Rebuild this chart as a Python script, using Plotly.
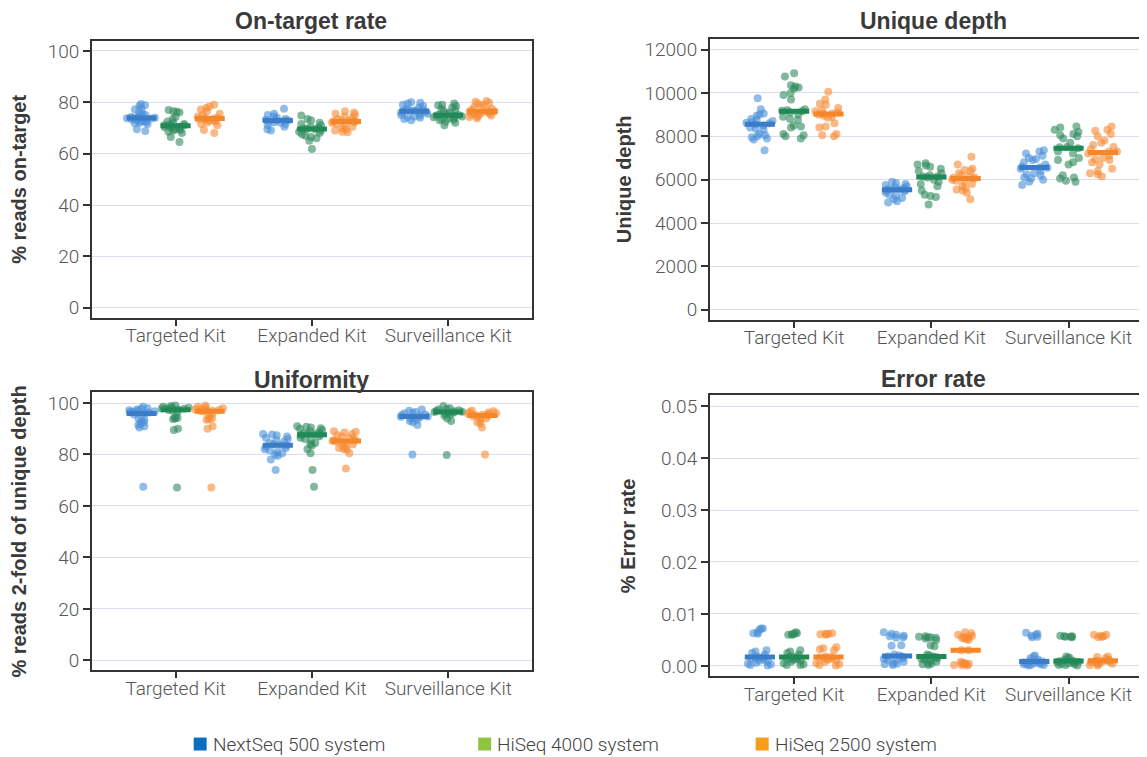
import numpy as np
import plotly.graph_objects as go

# The page adds an 8px body margin; figure is sized so it fills the window.
OFF = 8
W, H = 1147 - OFF, 757 - OFF

kits = ["Targeted Kit", "Expanded Kit", "Surveillance Kit"]
systems = ["NextSeq 500 system", "HiSeq 4000 system", "HiSeq 2500 system"]

# ---- On-target rate (% reads on-target); one list per kit ----
ontarget_nextseq = [
    [79.3, 78.8, 78.5, 77.5, 77.2, 76.0, 75.5, 75.0, 74.8, 74.5, 74.3, 74.0, 74.0, 73.9, 73.8,
     73.7, 73.6, 73.5, 73.3, 73.0, 72.8, 72.5, 72.2, 72.0, 71.8, 71.5, 69.5, 68.8],
    [77.5, 75.5, 75.0, 74.5, 74.0, 73.5, 73.2, 73.0, 72.9, 72.8, 72.5, 72.2, 72.0, 71.5, 71.0,
     70.5, 69.5, 69.0],
    [80.0, 79.8, 79.5, 79.0, 78.5, 78.0, 77.5, 77.2, 77.0, 76.8, 76.7, 76.5, 76.3, 76.0, 75.8,
     75.5, 75.0, 74.8, 74.5, 74.3, 74.0, 73.5, 73.0],
]
ontarget_hiseq4000 = [
    [77.0, 76.5, 76.3, 76.0, 74.3, 73.5, 72.5, 72.0, 71.5, 71.2, 71.0, 71.0, 70.8, 70.5, 70.3,
     70.0, 69.8, 69.5, 69.2, 69.0, 68.5, 68.0, 66.5, 64.5],
    [74.8, 73.5, 73.0, 72.0, 71.5, 71.0, 70.5, 70.0, 69.8, 69.7, 69.5, 69.0, 68.5, 68.0, 67.5,
     67.0, 66.5, 66.0, 65.0, 61.8],
    [79.5, 79.0, 78.8, 78.5, 78.0, 77.5, 77.0, 76.5, 76.0, 75.5, 75.2, 75.0, 74.8, 74.7, 74.5,
     74.2, 74.0, 73.7, 73.5, 73.2, 73.0, 72.5, 72.0, 71.0],
]
ontarget_hiseq2500 = [
    [79.0, 78.3, 77.8, 77.2, 76.5, 75.5, 75.0, 74.5, 74.0, 73.8, 73.7, 73.5, 73.3, 73.0, 72.8,
     72.5, 72.0, 71.5, 71.0, 69.2, 68.0],
    [76.5, 76.0, 75.5, 75.0, 74.5, 74.0, 73.5, 73.0, 72.8, 72.6, 72.5, 72.3, 72.0, 71.5, 71.0,
     70.5, 70.0, 69.5, 69.0, 68.5, 68.3],
    [80.5, 80.2, 79.8, 79.5, 79.0, 78.5, 78.0, 77.5, 77.0, 76.8, 76.5, 76.4, 76.3, 76.0, 75.8,
     75.5, 75.2, 75.0, 74.8, 74.5, 74.3, 73.8],
]

# ---- Unique depth ----
depth_nextseq = [
    [9750, 9250, 9050, 9000, 8950, 8800, 8750, 8700, 8650, 8620, 8600, 8550, 8500, 8400, 8350,
     8300, 8100, 8050, 8000, 7950, 7900, 7850, 7350],
    [5900, 5850, 5800, 5750, 5700, 5650, 5600, 5580, 5550, 5540, 5520, 5500, 5450, 5400, 5300,
     5250, 5150, 5100, 5000, 4950],
    [7350, 7300, 7200, 7100, 7000, 6950, 6900, 6800, 6700, 6600, 6570, 6550, 6500, 6400, 6300,
     6250, 6200, 6100, 6050, 6000, 5900, 5750],
]
depth_hiseq4000 = [
    [10900, 10750, 10350, 10300, 10250, 10200, 10000, 9900, 9700, 9250, 9200, 9180, 9150, 9100,
     9000, 8900, 8800, 8750, 8500, 8450, 8400, 8100, 8050, 8000, 7900],
    [6750, 6700, 6650, 6600, 6500, 6400, 6300, 6200, 6150, 6140, 6100, 6000, 5900, 5800, 5700,
     5500, 5300, 5250, 5200, 4850],
    [8450, 8400, 8300, 8200, 8100, 8050, 8000, 7900, 7700, 7500, 7490, 7450, 7300, 7200, 7000,
     6900, 6800, 6700, 6200, 6100, 6050, 5950, 5900],
]
depth_hiseq2500 = [
    [10050, 9700, 9500, 9450, 9300, 9200, 9150, 9100, 9050, 9050, 9000, 8950, 8900, 8850, 8600,
     8450, 8400, 8100, 8050, 8000],
    [7050, 6700, 6500, 6450, 6400, 6300, 6200, 6150, 6100, 6090, 6050, 6000, 5950, 5900, 5800,
     5700, 5600, 5550, 5500, 5400, 5100],
    [8450, 8300, 8250, 8100, 8000, 7800, 7700, 7600, 7500, 7400, 7300, 7300, 7200, 7100, 7000,
     6950, 6900, 6800, 6700, 6500, 6400, 6300, 6250, 6150],
]

# ---- Uniformity (% reads 2-fold of unique depth) ----
uniform_nextseq = [
    [98.5, 98.0, 97.8, 97.5, 97.2, 97.0, 96.8, 96.6, 96.5, 96.3, 96.0, 95.8, 95.5, 94.0, 93.5,
     93.0, 92.5, 92.0, 91.5, 91.0, 90.5, 67.5],
    [88.0, 87.8, 87.5, 87.0, 86.5, 86.0, 85.5, 85.0, 84.5, 84.0, 83.7, 83.5, 83.0, 82.5, 82.0,
     81.5, 81.0, 80.5, 80.0, 79.5, 78.0, 74.0],
    [97.5, 97.0, 96.5, 96.2, 96.0, 95.5, 95.2, 95.0, 94.8, 94.7, 94.5, 94.2, 94.0, 93.5, 93.0,
     92.5, 91.5, 80.0],
]
uniform_hiseq4000 = [
    [99.0, 98.8, 98.5, 98.3, 98.2, 98.0, 97.9, 97.8, 97.7, 97.5, 97.3, 97.0, 96.5, 94.5, 94.0,
     94.2, 93.8, 90.0, 89.5, 67.2],
    [91.0, 90.8, 90.5, 90.2, 90.0, 89.5, 89.0, 88.5, 88.2, 88.0, 87.9, 87.8, 87.5, 87.0, 86.5,
     86.0, 85.5, 84.5, 84.0, 83.5, 82.0, 80.5, 74.0, 67.5],
    [98.8, 98.0, 97.8, 97.5, 97.2, 97.0, 96.8, 96.6, 96.5, 96.3, 96.0, 95.8, 95.5, 95.0, 94.0,
     93.0, 79.8],
]
uniform_hiseq2500 = [
    [99.0, 98.5, 98.2, 98.0, 97.8, 97.5, 97.3, 97.2, 97.0, 96.8, 96.5, 96.0, 94.5, 94.0, 93.5,
     93.8, 91.0, 90.0, 67.2],
    [89.0, 88.8, 88.5, 88.0, 87.5, 87.0, 86.5, 86.0, 85.5, 85.4, 85.2, 85.0, 84.5, 84.0, 83.5,
     83.0, 82.5, 82.0, 81.8, 80.5, 74.5],
    [97.0, 96.8, 96.5, 96.3, 96.0, 95.8, 95.5, 95.4, 95.3, 95.0, 94.8, 94.5, 94.0, 93.5, 92.5,
     92.0, 90.5, 80.0],
]

# ---- Error rate (%) ----
error_nextseq = [
    [0.0072, 0.0072, 0.0070, 0.0065, 0.0063, 0.0062, 0.0030, 0.0028, 0.0025, 0.0022, 0.0014,
     0.0018, 0.0016, 0.0015, 0.0012, 0.0010, 0.0008, 0.0006, 0.0004, 0.0003, 0.0002, 0.0001],
    [0.0065, 0.0062, 0.0060, 0.0058, 0.0057, 0.0055, 0.0054, 0.0040, 0.0039, 0.0012, 0.0014,
     0.0022, 0.0020, 0.0018, 0.0018, 0.0015, 0.0010, 0.0008, 0.0005, 0.0004, 0.0003, 0.0002],
    [0.0064, 0.0062, 0.0060, 0.0058, 0.0056, 0.0055, 0.0020, 0.0018, 0.0015, 0.0012, 0.0009,
     0.0008, 0.0008, 0.0007, 0.0006, 0.0005, 0.0004, 0.0003, 0.0003, 0.0002, 0.0002, 0.0001],
]
error_hiseq4000 = [
    [0.0065, 0.0063, 0.0062, 0.0061, 0.0060, 0.0060, 0.0030, 0.0028, 0.0025, 0.0022, 0.0013,
     0.0018, 0.0016, 0.0015, 0.0014, 0.0012, 0.0010, 0.0008, 0.0005, 0.0003, 0.0002, 0.0002],
    [0.0057, 0.0056, 0.0055, 0.0055, 0.0054, 0.0053, 0.0050, 0.0040, 0.0038, 0.0012, 0.0014,
     0.0018, 0.0022, 0.0020, 0.0017, 0.0016, 0.0015, 0.0010, 0.0008, 0.0005, 0.0004, 0.0003,
     0.0002],
    [0.0058, 0.0057, 0.0057, 0.0056, 0.0056, 0.0055, 0.0018, 0.0016, 0.0015, 0.0012, 0.0010,
     0.0009, 0.0008, 0.0008, 0.0007, 0.0006, 0.0005, 0.0004, 0.0003, 0.0002, 0.0002, 0.0001],
]
error_hiseq2500 = [
    [0.0063, 0.0062, 0.0062, 0.0061, 0.0060, 0.0036, 0.0034, 0.0032, 0.0030, 0.0014, 0.0016,
     0.0018, 0.0017, 0.0015, 0.0012, 0.0010, 0.0008, 0.0005, 0.0003, 0.0002, 0.0001],
    [0.0065, 0.0063, 0.0060, 0.0058, 0.0056, 0.0055, 0.0054, 0.0053, 0.0052, 0.0050, 0.0030,
     0.0030, 0.0008, 0.0006, 0.0005, 0.0004, 0.0004, 0.0003, 0.0002, 0.0002, 0.0001],
    [0.0060, 0.0060, 0.0058, 0.0057, 0.0056, 0.0055, 0.0018, 0.0017, 0.0015, 0.0009, 0.0012,
     0.0010, 0.0010, 0.0009, 0.0008, 0.0007, 0.0005, 0.0004, 0.0003, 0.0002, 0.0001],
]

panel_titles = ["On-target rate", "Unique depth", "Uniformity", "Error rate"]
axis_titles = ["% reads on-target", "Unique depth", "% reads 2-fold of unique depth", "% Error rate"]
y_ticks = [
    [0, 20, 40, 60, 80, 100],
    [0, 2000, 4000, 6000, 8000, 10000, 12000],
    [0, 20, 40, 60, 80, 100],
    [0.00, 0.01, 0.02, 0.03, 0.04, 0.05],
]
y_tickformats = ["d", "d", "d", ".2f"]
panel_data = [
    [ontarget_nextseq, ontarget_hiseq4000, ontarget_hiseq2500],
    [depth_nextseq, depth_hiseq4000, depth_hiseq2500],
    [uniform_nextseq, uniform_hiseq4000, uniform_hiseq2500],
    [error_nextseq, error_hiseq4000, error_hiseq2500],
]

# ---- styling / layout (reference-window pixels) ----
point_colors = ["#4a8fd8", "#2e8b5e", "#f78b32"]
median_colors = ["#3a7cc8", "#1f8a55", "#f5862a"]
legend_colors = ["#0b6fbe", "#8dc540", "#f89c1c"]


def px_x(x):
    return (x - OFF) / W


def px_y(y):
    return 1 - (y - OFF) / H


# plot boxes: (left, right, top, bottom) in window px
boxes = [(92, 533, 40, 318), (711, 1147, 38, 320), (92, 533, 393, 672), (711, 1147, 396, 678)]
y_ranges = [[-3.9, 103.9], [-460, 12490], [-3.9, 104.1], [-0.0020, 0.05205]]
x_ranges = [[-0.615, 2.615], [-0.615, 2.557], [-0.615, 2.615], [-0.615, 2.557]]
title_y = [20, 20, 380, 379]
title_x = [312, 935, 312, 935]
standoffs = [18, 8, 18, 20]

tick_font = dict(family="Roboto, Liberation Sans, sans-serif", size=19, color="#555555", weight=300)
bold_font = dict(family="Liberation Sans, Arial, sans-serif", size=20, color="#3a3a3a", weight="bold")

fig = go.Figure()

# jittered points
for p in range(4):
    sfx = "" if p == 0 else str(p + 1)
    for i, sys_name in enumerate(systems):
        vals = panel_data[p][i]
        xs = [k for k, v in zip(kits, vals) for _ in v]
        ys = [y for v in vals for y in v]
        fig.add_trace(go.Box(
            x=xs, y=ys, name=sys_name, offsetgroup=sys_name,
            boxpoints="all", jitter=1.0, pointpos=0,
            fillcolor="rgba(0,0,0,0)", line=dict(color="rgba(0,0,0,0)", width=0),
            marker=dict(color=point_colors[i], size=8, opacity=0.6, line=dict(width=0)),
            hoveron="points", showlegend=False,
            xaxis="x" + sfx, yaxis="y" + sfx,
        ))
# median bars
for p in range(4):
    sfx = "" if p == 0 else str(p + 1)
    for i, sys_name in enumerate(systems):
        vals = panel_data[p][i]
        med = [float(np.median(v)) for v in vals]
        fig.add_trace(go.Box(
            x=kits, q1=med, median=med, q3=med, lowerfence=med, upperfence=med,
            name=sys_name, offsetgroup=sys_name, boxpoints=False,
            fillcolor=median_colors[i], line=dict(color=median_colors[i], width=5),
            hoverinfo="skip", showlegend=False,
            xaxis="x" + sfx, yaxis="y" + sfx,
        ))

layout = dict(
    width=W, height=H, margin=dict(l=0, r=0, t=0, b=0),
    paper_bgcolor="white", plot_bgcolor="white",
    boxmode="group", boxgap=0.25, boxgroupgap=0.12,
    showlegend=False,
)
annotations = []
for p in range(4):
    sfx = "" if p == 0 else str(p + 1)
    l, r, t, b = boxes[p]
    layout["xaxis" + sfx] = dict(
        domain=[px_x(l), min(1.0, px_x(r))], anchor="y" + sfx, type="category",
        categoryorder="array", categoryarray=kits, range=x_ranges[p],
        showline=True, mirror=True, linecolor="#333333", linewidth=1.5,
        ticks="outside", ticklen=6, tickwidth=1.5, tickcolor="#333333",
        ticklabelstandoff=-6,
        showgrid=False, tickfont=tick_font, fixedrange=True,
    )
    layout["yaxis" + sfx] = dict(
        domain=[px_y(b), px_y(t)], anchor="x" + sfx, range=y_ranges[p],
        tickvals=y_ticks[p], tickformat=y_tickformats[p],
        showline=True, mirror=True, linecolor="#333333", linewidth=1.5,
        ticks="outside", ticklen=7, tickwidth=1.5, tickcolor="#333333",
        showgrid=True, gridcolor="#dcdcf0", gridwidth=1, zeroline=False,
        tickfont=tick_font, fixedrange=True,
        title=dict(text=axis_titles[p], font=bold_font, standoff=standoffs[p]),
    )
    annotations.append(dict(
        text=panel_titles[p], xref="paper", yref="paper",
        x=px_x(title_x[p]), y=px_y(title_y[p]), xanchor="center", yanchor="middle",
        showarrow=False, font=dict(family="Liberation Sans, Arial, sans-serif", size=23,
                                   color="#3a3a3a", weight="bold"),
    ))

# legend (bottom)
legend_sq_x = [194, 479, 757]
legend_y = 746
shapes = []
for i, sys_name in enumerate(systems):
    x0 = legend_sq_x[i]
    shapes.append(dict(type="rect", xref="paper", yref="paper",
                       x0=px_x(x0), x1=px_x(x0 + 13),
                       y0=px_y(legend_y + 6.5), y1=px_y(legend_y - 6.5),
                       fillcolor=legend_colors[i], line=dict(width=0)))
    annotations.append(dict(
        text=sys_name, xref="paper", yref="paper",
        x=px_x(x0 + 17), y=px_y(legend_y), xanchor="left", yanchor="middle",
        showarrow=False, font=dict(family="Roboto, Liberation Sans, sans-serif", size=19,
                                   color="#444444", weight=300),
    ))

layout["annotations"] = annotations
layout["shapes"] = shapes
fig.update_layout(**layout)

fig.write_html("out.html")
